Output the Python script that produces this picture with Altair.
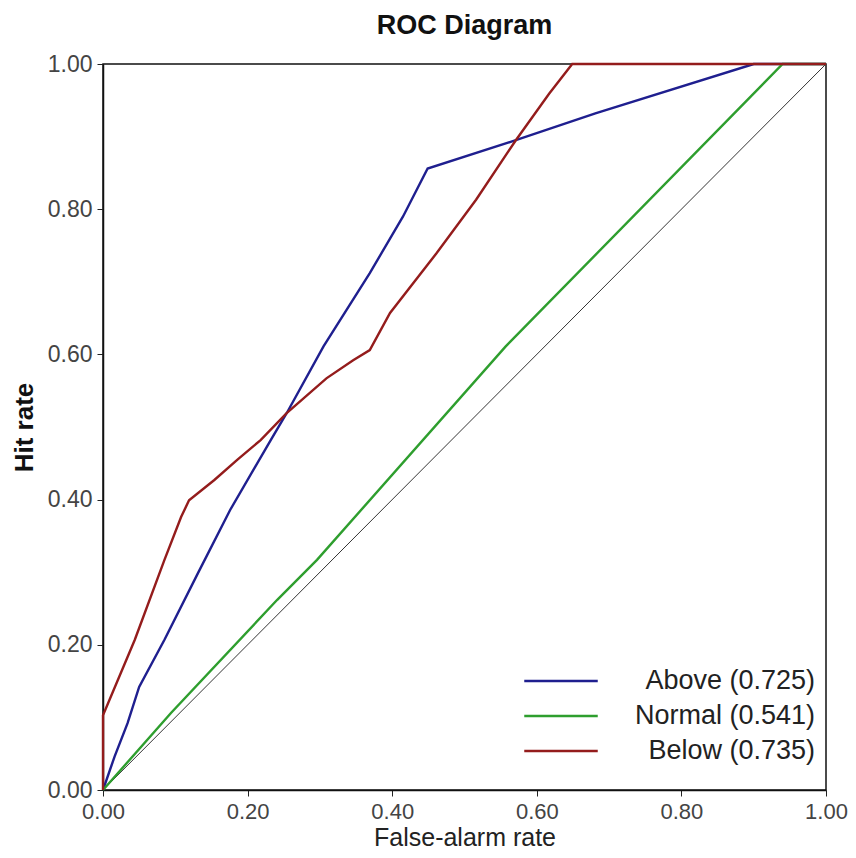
import altair as alt
import pandas as pd

# ---- data ----
series_names = ["Above (0.725)", "Normal (0.541)", "Below (0.735)"]
series_colors = ["#1f1f8f", "#2e9e2e", "#941c1c"]

above_x = [0.0, 0.016, 0.034, 0.050, 0.085, 0.131, 0.176, 0.232, 0.254, 0.305, 0.369, 0.415, 0.449, 0.571, 0.681, 0.900, 1.0]
above_y = [0.0, 0.046, 0.092, 0.142, 0.207, 0.298, 0.386, 0.482, 0.519, 0.611, 0.712, 0.790, 0.856, 0.895, 0.932, 1.0, 1.0]

normal_x = [0.0, 0.094, 0.241, 0.296, 0.557, 0.940, 1.0]
normal_y = [0.0, 0.106, 0.262, 0.317, 0.611, 1.0, 1.0]

below_x = [0.0, 0.0, 0.044, 0.085, 0.108, 0.119, 0.154, 0.186, 0.218, 0.254, 0.309, 0.346, 0.369, 0.397, 0.461, 0.516, 0.571, 0.617, 0.649, 1.0]
below_y = [0.0, 0.103, 0.207, 0.317, 0.376, 0.399, 0.427, 0.455, 0.482, 0.519, 0.567, 0.592, 0.606, 0.657, 0.739, 0.813, 0.895, 0.959, 1.0, 1.0]

diag_x = [0.0, 1.0]
diag_y = [0.0, 1.0]

tick_values = [0.0, 0.2, 0.4, 0.6, 0.8, 1.0]

# ---- tables ----
rows = []
for name, xs, ys in zip(series_names, [above_x, normal_x, below_x], [above_y, normal_y, below_y]):
    for i, (xv, yv) in enumerate(zip(xs, ys)):
        rows.append({"series": name, "x": xv, "y": yv, "idx": i})
df = pd.DataFrame(rows)
diag_df = pd.DataFrame({"x": diag_x, "y": diag_y, "idx": list(range(len(diag_x)))})

FONT = "Liberation Sans"

xscale = alt.Scale(domain=[0, 1], nice=False, zero=False)
yscale = alt.Scale(domain=[0, 1], nice=False, zero=False)

x_axis = alt.Axis(
    title="False-alarm rate", values=tick_values, format=".2f", grid=False,
    labelFont=FONT, labelFontSize=22, labelColor="#444444", labelPadding=5,
    titleFont=FONT, titleFontSize=25, titleFontWeight="normal", titleColor="#222222", titlePadding=3,
    tickSize=6, tickColor="#222222", domainColor="#111111", domainWidth=1.5,
    labelFlush=False,
)
y_axis = alt.Axis(
    title="Hit rate", values=tick_values, format=".2f", grid=False,
    labelFont=FONT, labelFontSize=23, labelColor="#444444", labelPadding=5,
    titleFont=FONT, titleFontSize=26, titleFontWeight="bold", titleColor="#111111", titlePadding=10,
    tickSize=6, tickColor="#222222", domainColor="#111111", domainWidth=1.5,
    labelFlush=False,
)

diag = alt.Chart(diag_df).mark_line(color="black", strokeWidth=0.8).encode(
    x=alt.X("x:Q", scale=xscale, axis=x_axis),
    y=alt.Y("y:Q", scale=yscale, axis=y_axis),
    order="idx:Q",
)

curves = alt.Chart(df).mark_line(strokeWidth=2.4).encode(
    x=alt.X("x:Q", scale=xscale, axis=x_axis),
    y=alt.Y("y:Q", scale=yscale, axis=y_axis),
    order="idx:Q",
    color=alt.Color(
        "series:N",
        sort=series_names,
        scale=alt.Scale(domain=series_names, range=series_colors),
        legend=alt.Legend(
            title=None, orient="none", legendX=439, legendY=598,
            symbolType="M-2.1,0L2.1,0", symbolSize=1225, symbolStrokeWidth=2.5,
            labelAlign="right", labelOffset=235, labelFont=FONT, labelFontSize=27,
            labelColor="#222222", labelLimit=400, rowPadding=3, padding=0,
        ),
    ),
)

chart = alt.layer(diag, curves).properties(
    width=723,
    height=726,
    autosize="none",
    padding={"left": 95, "top": 56, "right": 22, "bottom": 59},
    title=alt.TitleParams(
        "ROC Diagram", font=FONT, fontSize=27, fontWeight="bold", color="#111111",
        anchor="middle", offset=13,
    ),
).configure_view(stroke="#111111", strokeWidth=1.5)

chart.save("out.html", embed_options={"renderer": "svg", "actions": False})
